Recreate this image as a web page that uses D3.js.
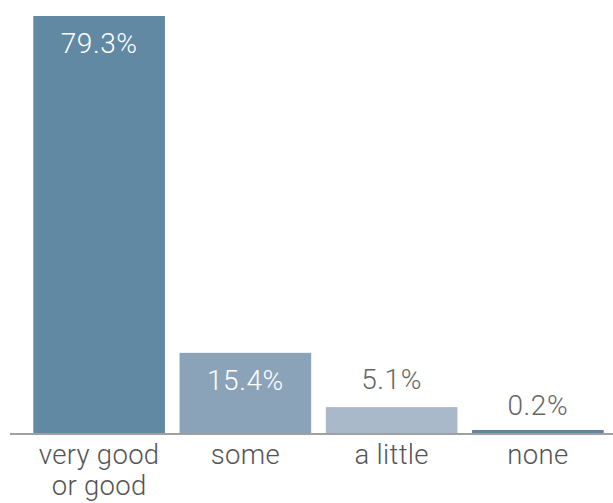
<!DOCTYPE html>
<html><head><meta charset="utf-8">
<script src="https://cdn.jsdelivr.net/npm/d3@7"></script>
<style>body{margin:0;background:#fff}svg{display:block}</style>
</head><body>
<svg id="c" width="613" height="503"></svg>
<script>
const categories = ["very good|or good", "some", "a little", "none"];
const values = [79.3, 15.4, 5.1, 0.2];
const colors = ["#6189a4", "#8aa3b8", "#a9b9ca", "#5f86a0"];
const labelsInside = [true, true, false, false];

const svg = d3.select("#c");
const baseY = 434;
const x = d3.scaleBand().domain(categories).range([26, 611]).paddingInner(0.1).paddingOuter(0.05);
const y = d3.scaleLinear().domain([0, 79.3]).range([baseY, 16]);
const font = "'Roboto', 'Helvetica Neue', sans-serif";

svg.selectAll("rect.bar").data(values).join("rect")
  .attr("class", "bar")
  .attr("x", (d, i) => x(categories[i]))
  .attr("width", x.bandwidth())
  .attr("y", d => Math.min(y(d), baseY - 4))
  .attr("height", d => Math.max(baseY - y(d), 4))
  .attr("fill", (d, i) => colors[i]);

svg.selectAll("text.val").data(values).join("text")
  .attr("class", "val")
  .attr("x", (d, i) => x(categories[i]) + x.bandwidth() / 2)
  .attr("y", (d, i) => labelsInside[i] ? y(d) + 37 : y(d) - 18)
  .attr("text-anchor", "middle")
  .attr("font-family", font).attr("font-weight", 300).attr("font-size", 28)
  .attr("letter-spacing", 0.6)
  .attr("fill", (d, i) => labelsInside[i] ? "#ffffff" : "#666666")
  .text(d => d.toFixed(1) + "%");

const axis = d3.axisBottom(x).tickSize(0).tickFormat("");
const g = svg.append("g").attr("transform", `translate(0,${baseY})`).call(axis);
g.select(".domain").attr("d", "M10,0H613").attr("stroke", "#a0a0a0").attr("stroke-width", 2);

g.selectAll(".tick").each(function(d) {
  const t = d3.select(this).append("text")
    .attr("text-anchor", "middle")
    .attr("font-family", font).attr("font-weight", 300).attr("font-size", 27.5)
    .attr("letter-spacing", 0.3)
    .attr("fill", "#555");
  d.split("|").forEach((line, k) => {
    t.append("tspan").attr("x", 0).attr("y", 30 + k * 31).text(line);
  });
});
</script>
</body></html>
